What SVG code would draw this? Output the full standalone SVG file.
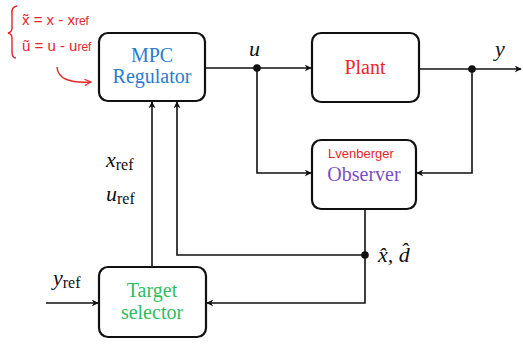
<svg xmlns="http://www.w3.org/2000/svg" width="523" height="345" viewBox="0 0 523 345">
<style>
.box{fill:#fff;stroke:#111;stroke-width:2.2}
.ln{fill:none;stroke:#111;stroke-width:1.6}
.lbl{font-family:"Liberation Serif","DejaVu Serif",serif;font-size:20px;text-anchor:middle}
.math{font-family:"Liberation Serif","DejaVu Serif",serif;font-size:22px;font-style:italic;fill:#111}
.sub{font-style:normal;font-size:16px}
.hand{font-family:"Liberation Sans","DejaVu Sans",sans-serif;fill:#e3262b}
</style>
<defs>
<marker id="ar" viewBox="0 0 10 10" refX="9" refY="5" markerWidth="7" markerHeight="7" markerUnits="userSpaceOnUse" orient="auto">
<path d="M0,0 L10,5 L0,10 L3,5 Z" fill="#111"/>
</marker>
<marker id="arr" viewBox="0 0 10 10" refX="9" refY="5" markerWidth="8" markerHeight="8" markerUnits="userSpaceOnUse" orient="auto">
<path d="M1,1 L9,5 L1,9" fill="none" stroke="#e3262b" stroke-width="1.5"/>
</marker>
</defs>

<g id="connectors">
<path class="ln" d="M205,68 H311" marker-end="url(#ar)"/>
<path class="ln" d="M419,69 H521" marker-end="url(#ar)"/>
<path class="ln" d="M257,68 V173 H311" marker-end="url(#ar)"/>
<path class="ln" d="M472,69 V173 H417" marker-end="url(#ar)"/>
<path class="ln" d="M365,209 V303 H207" marker-end="url(#ar)"/>
<path class="ln" d="M365,255 H177 V102" marker-end="url(#ar)"/>
<path class="ln" d="M152,267 V102" marker-end="url(#ar)"/>
<path class="ln" d="M46,303 H98" marker-end="url(#ar)"/>
<circle cx="257" cy="68" r="3.8" fill="#111"/>
<circle cx="472" cy="69" r="3.8" fill="#111"/>
<circle cx="365" cy="255" r="3.8" fill="#111"/>
<text class="math" x="249" y="56">u</text>
<text class="math" x="495" y="56">y</text>
<text class="math" x="106" y="167">x<tspan class="sub" dy="3">ref</tspan></text>
<text class="math" x="106" y="201">u<tspan class="sub" dy="3">ref</tspan></text>
<text class="math" x="53" y="285">y<tspan class="sub" dy="3">ref</tspan></text>
<text class="math" x="378" y="262">x̂, d̂</text>
</g>

<g id="mpc">
<rect class="box" x="99" y="33" width="106" height="68" rx="9"/>
<text class="lbl" x="152" y="62" fill="#2a7ccc">MPC</text>
<text class="lbl" x="152" y="83" fill="#2a7ccc">Regulator</text>
</g>

<g id="plant">
<rect class="box" x="312" y="33" width="107" height="69" rx="9"/>
<text class="lbl" x="365" y="74" fill="#f0262b">Plant</text>
</g>

<g id="observer">
<rect class="box" x="312" y="140" width="104" height="69" rx="9"/>
<text class="hand" x="361" y="158" font-size="13" text-anchor="middle">Lvenberger</text>
<text class="lbl" x="364" y="181" fill="#7b4fc2">Observer</text>
</g>

<g id="target">
<rect class="box" x="99" y="267" width="107" height="70" rx="9"/>
<text class="lbl" x="152" y="297" fill="#2ebd5d">Target</text>
<text class="lbl" x="152" y="319" fill="#2ebd5d">selector</text>
</g>

<g id="annotation">
<path d="M17,6 Q11,7 12,14 L12,28 Q12,32 8,33 Q12,34 12,38 L12,52 Q12,58 16,58" fill="none" stroke="#e3262b" stroke-width="1.4"/>
<text class="hand" x="22" y="25" font-size="15">x̃ = x - x<tspan font-size="12">ref</tspan></text>
<text class="hand" x="22" y="51" font-size="15">ũ = u - u<tspan font-size="12">ref</tspan></text>
<path d="M57,67 Q58,84 91,82" fill="none" stroke="#e3262b" stroke-width="1.4" marker-end="url(#arr)"/>
</g>
</svg>
